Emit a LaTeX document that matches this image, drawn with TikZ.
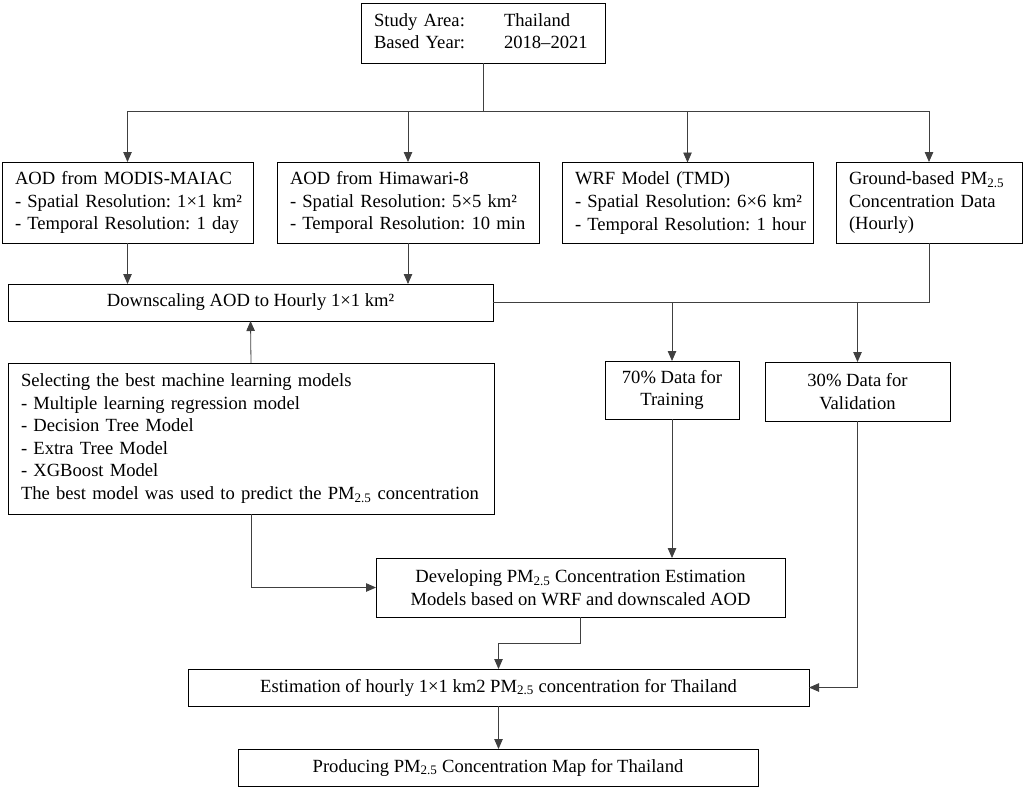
\documentclass[tikz,border=0pt]{standalone}
\usepackage{fontspec}
\setmainfont{Liberation Serif}
\usetikzlibrary{arrows.meta}
\newcommand{\lines}[1]{\begin{tabular}{@{}l@{}}#1\end{tabular}}
\frenchspacing
\begin{document}
\frenchspacing
\begin{tikzpicture}[x=1pt,y=-1pt,
  box/.style={draw=black, line width=1pt, inner sep=0pt, outer sep=0pt, font=\fontsize{18.6}{22.6}\selectfont\frenchspacing, align=center},
  lbox/.style={box, align=left, inner xsep=13pt},
  conn/.style={draw=black!75, line width=0.8pt},
  arr/.style={conn, -{Triangle[width=8.5pt,length=10pt]}}
]
\useasboundingbox (0,0) rectangle (1024,788);

\node[lbox, text width=218pt, minimum height=60pt] (top) at (483,33)
  {\lines{\makebox[130pt][l]{Study Area:}Thailand\\ \makebox[130pt][l]{Based Year:}2018–2021}};

\node[lbox, text width=225pt, minimum height=81pt] (b1) at (127.5,202.5)
  {\lines{AOD from MODIS-MAIAC\\- Spatial Resolution: 1×1 km²\\- Temporal Resolution: 1 day}};
\node[lbox, text width=236pt, minimum height=81pt] (b2) at (408,202.5)
  {\lines{AOD from Himawari-8\\- Spatial Resolution: 5×5 km²\\- Temporal Resolution: 10 min}};
\node[lbox, text width=225pt, minimum height=81pt] (b3) at (687.5,203)
  {\lines{WRF Model (TMD)\\- Spatial Resolution: 6×6 km²\\- Temporal Resolution: 1 hour}};
\node[lbox, text width=160pt, minimum height=81pt] (b4) at (929,202.5)
  {\lines{Ground-based PM\textsubscript{2.5}\\Concentration Data\\(Hourly)}};

\node[box, minimum width=485pt, minimum height=37pt] (down) at (250.5,302.5)
  {Downscaling AOD to Hourly 1×1 km²};

\node[lbox, text width=460pt, minimum height=151pt] (ml) at (251,438.5)
  {\lines{Selecting the best machine learning models\\- Multiple learning regression model\\- Decision Tree Model\\- Extra Tree Model\\- XGBoost Model\\The best model was used to predict the PM\textsubscript{2.5} concentration}};

\node[box, minimum width=134pt, minimum height=58pt] (p70) at (672,390)
  {70\% Data for\\Training};
\node[box, minimum width=185pt, minimum height=59pt] (p30) at (857.5,391.5)
  {30\% Data for\\Validation};

\node[box, minimum width=409pt, minimum height=59pt] (dev) at (580.5,587.5)
  {Developing PM\textsubscript{2.5} Concentration Estimation\\Models based on WRF and downscaled AOD};

\node[box, minimum width=621pt, minimum height=37pt] (est) at (498.5,687.5)
  {Estimation of hourly 1×1 km2 PM\textsubscript{2.5} concentration for Thailand};

\node[box, minimum width=520pt, minimum height=37pt] (prod) at (498,767.5)
  {Producing PM\textsubscript{2.5} Concentration Map for Thailand};

% connectors
\coordinate (split) at (483,111);
\draw[conn] (top.south) -- (split);
\draw[arr] (split) -| (b1.north);
\draw[arr] (split) -| (b2.north);
\draw[arr] (split) -| (b3.north);
\draw[arr] (split) -| (b4.north);

\draw[arr] (b1.south) -- (b1.south |- down.north);
\draw[arr] (b2.south) -- (b2.south |- down.north);

\draw[conn] (b4.south) |- (down.east);
\draw[arr] (p70.north |- down.east) -- (p70.north);
\draw[arr] (p30.north |- down.east) -- (p30.north);

\draw[arr] (ml.north) -- (down.south);
\draw[arr] (ml.south) |- (dev.west);
\draw[arr] (p70.south) -- (p70.south |- dev.north);

\coordinate (bend) at (580.5,643);
\draw[arr] (dev.south) -- (bend) -| (est.north);
\draw[arr] (p30.south) |- (est.east);
\draw[arr] (est.south) -- (est.south |- prod.north);
\end{tikzpicture}
\end{document}
